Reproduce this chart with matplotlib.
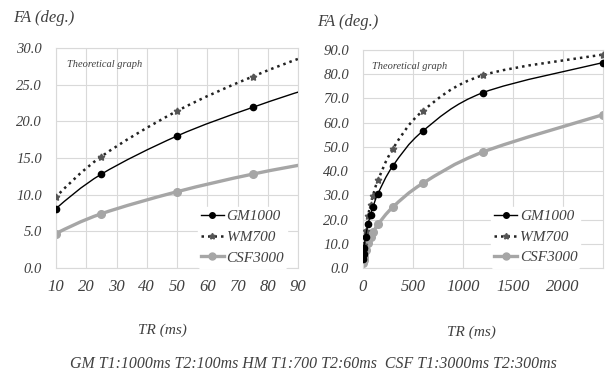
import matplotlib.pyplot as plt
from matplotlib.path import Path
from matplotlib.patches import PathPatch
from matplotlib.lines import Line2D

# values (Excel theoretical curves)
tr = [2, 5, 10, 25, 50, 75, 100, 150, 300, 600, 1200, 2400]
gm1000 = [3.6, 5.7, 8.1, 12.8, 18.0, 21.9, 25.2, 30.7, 42.2, 56.6, 72.4, 84.8]
wm700 = [4.3, 6.9, 9.7, 15.2, 21.4, 26.1, 29.9, 36.2, 49.3, 64.9, 79.6, 88.1]
csf3000 = [2.1, 3.3, 4.7, 7.4, 10.4, 12.8, 14.7, 18.0, 25.2, 35.0, 47.9, 63.3]

left_xticks = [10, 20, 30, 40, 50, 60, 70, 80, 90]
left_yticks = [0, 5, 10, 15, 20, 25, 30]
right_xticks = [0, 500, 1000, 1500, 2000]
right_yticks = [0, 10, 20, 30, 40, 50, 60, 70, 80, 90]

plt.rcParams['font.family'] = ['Liberation Serif', 'DejaVu Serif']
plt.rcParams['font.style'] = 'italic'

txt = '#404040'
grid_c = '#d9d9d9'

# series styles: (data, label, line kwargs, marker kwargs, zorder)
styles = [
    (gm1000, 'GM1000', dict(color='black', lw=1.0),
     dict(marker='o', ms=4.5, color='black'), 4),
    (wm700, 'WM700', dict(color='#222222', lw=1.8, ls=(0, (1, 1.6))),
     dict(marker=(5, 1, 0), ms=5, color='#555555'), 3),
    (csf3000, 'CSF3000', dict(color='#a6a6a6', lw=2.4),
     dict(marker='o', ms=5.5, color='#a6a6a6'), 2),
]


# Excel-like smoothed line (cubic bezier through the data points)
def smooth_path(x, y):
    n = len(x)
    verts = [(x[0], y[0])]
    codes = [Path.MOVETO]
    for i in range(n - 1):
        x0, y0 = (x[i - 1], y[i - 1]) if i > 0 else (x[i], y[i])
        x3, y3 = (x[i + 2], y[i + 2]) if i + 2 < n else (x[i + 1], y[i + 1])
        c1 = (x[i] + (x[i + 1] - x0) / 6, y[i] + (y[i + 1] - y0) / 6)
        c2 = (x[i + 1] - (x3 - x[i]) / 6, y[i + 1] - (y3 - y[i]) / 6)
        verts += [c1, c2, (x[i + 1], y[i + 1])]
        codes += [Path.CURVE4] * 3
    return Path(verts, codes)


fig = plt.figure(figsize=(6.05, 3.74), dpi=100)
ax1 = fig.add_axes([56/605, 106/374, 242/605, 220/374])
ax2 = fig.add_axes([363/605, 106/374, 240/605, 218/374])


def draw(ax, text_x, leg_anchor):
    handles = []
    for data, label, lkw, mkw, z in styles:
        lw = lkw['lw']
        ls = lkw.get('ls', '-')
        ax.add_patch(PathPatch(smooth_path(tr, data), fill=False,
                               edgecolor=lkw['color'], lw=lw, ls=ls,
                               zorder=z))
        ax.plot(tr, data, ls='none', marker=mkw['marker'], ms=mkw['ms'],
                mfc=mkw['color'], mec=mkw['color'], zorder=z + 0.5)
        handles.append(Line2D([], [], color=lkw['color'], lw=lw, ls=ls,
                              marker=mkw['marker'], ms=mkw['ms'] - 0.5,
                              mfc=mkw['color'], mec=mkw['color'],
                              label=label))
    ax.grid(True, color=grid_c, lw=0.8)
    ax.set_axisbelow(True)
    for s in ax.spines.values():
        s.set_color(grid_c)
        s.set_linewidth(0.8)
    ax.tick_params(length=0, colors=txt)
    ax.tick_params(axis='x', labelsize=12, pad=8)
    ax.tick_params(axis='y', labelsize=10.5, pad=10)
    ax.text(text_x, 0.923, 'Theoretical graph', transform=ax.transAxes,
            fontsize=7.5, color='#404040', va='center')
    leg = ax.legend(handles=handles, loc='lower right',
                    bbox_to_anchor=leg_anchor, frameon=True, fontsize=11,
                    handlelength=1.55, handletextpad=0.15, labelspacing=0.45,
                    borderpad=0.2)
    leg.get_frame().set_facecolor('white')
    leg.get_frame().set_edgecolor('white')
    leg.get_frame().set_alpha(1)
    for t in leg.get_texts():
        t.set_color(txt)


draw(ax1, 0.045, (0.987, -0.033))
ax1.set_xlim(10, 90)
ax1.set_ylim(0, 30)
ax1.set_xticks(left_xticks)
ax1.set_yticks(left_yticks)
ax1.set_yticklabels([f'{v:.1f}' for v in left_yticks])

draw(ax2, 0.0375, (0.9375, -0.033))
ax2.set_xlim(0, 2400)
ax2.set_ylim(0, 90)
ax2.set_xticks(right_xticks)
ax2.set_yticks(right_yticks)
ax2.set_yticklabels([f'{v:.1f}' for v in right_yticks])

fig.text(13/605, 1 - 18/374, 'FA (deg.)', fontsize=12, color=txt, va='center')
fig.text(317/605, 1 - 22/374, 'FA (deg.)', fontsize=12, color=txt, va='center')
fig.text(162/605, 1 - 330/374, 'TR (ms)', fontsize=11, color=txt,
         ha='center', va='center')
fig.text(471/605, 1 - 332/374, 'TR (ms)', fontsize=11, color=txt,
         ha='center', va='center')
fig.text(313/605, 1 - 364/374,
         'GM T1:1000ms T2:100ms HM T1:700 T2:60ms  CSF T1:3000ms T2:300ms',
         fontsize=11.4, color=txt, ha='center', va='center')

fig.savefig('out.png', dpi=100)
